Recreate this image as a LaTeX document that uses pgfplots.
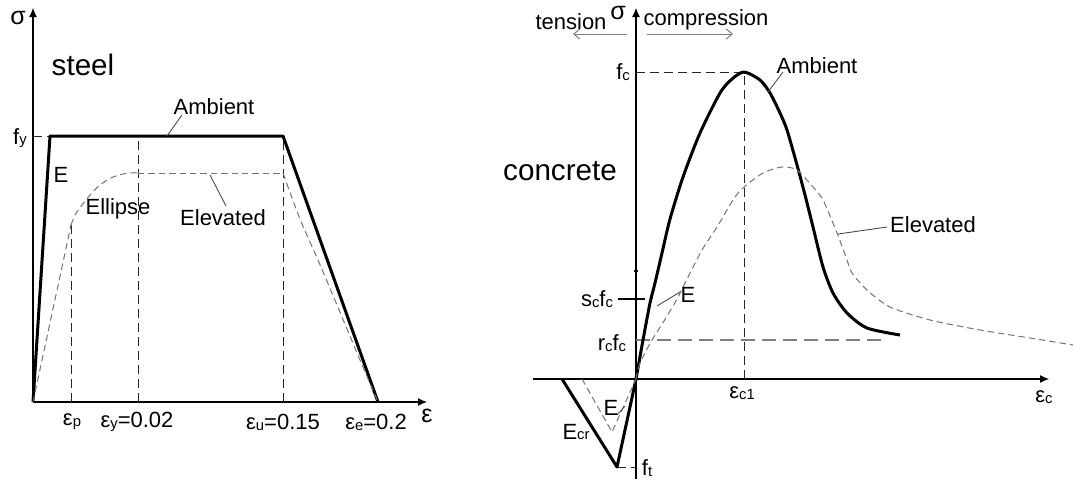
\documentclass[border=0pt]{standalone}
\usepackage{fontspec}
\setmainfont{Liberation Sans}
\usepackage{pgfplots}
\pgfplotsset{compat=1.18}
\usetikzlibrary{arrows.meta}

% small lowered index, as in f_y, eps_c1
\newcommand{\sub}[1]{\raisebox{-0.4pt}{\fontsize{7.4}{8}\selectfont #1}}
\newcommand{\lbl}{\fontsize{11}{12}\selectfont}
\newcommand{\sym}{\fontsize{12.5}{14}\selectfont}
\newcommand{\biglbl}{\fontsize{14.8}{17}\selectfont}

\tikzset{
  ambient/.style={black, line width=1.5pt, line join=round},
  elevated/.style={gray!90!black, line width=0.5pt,
    dash pattern=on 3.2pt off 2pt},
  guide/.style={black!85, line width=0.5pt, dash pattern=on 4.5pt off 2.5pt},
  leader/.style={black!70, line width=0.45pt},
  axisline/.style={black, line width=0.55pt},
  axisarrow/.style={-{Latex[length=4.5pt,width=4pt]}},
}
\pgfplotsset{
  sketch/.style={x=0.5pt, y=0.5pt, scale only axis, axis lines=none,
    ticks=none, clip=false, enlargelimits=false, anchor=south west},
}

\begin{document}
\begin{tikzpicture}
\useasboundingbox (0,0) rectangle (537pt,239.5pt);

% ---------------- steel ----------------
\begin{axis}[sketch, at={(0pt,0pt)}, xmin=-33, xmax=437, ymin=-77, ymax=402]
  % axes
  \draw[axisline, axisarrow] (0,0) -- (0,394);
  \draw[axisline, axisarrow] (0,0) -- (394,0);
  % reference lines
  \draw[guide] (0,266) -- (17,266);
  \draw[guide] (38,0) -- (38,177);
  \draw[guide] (105,0) -- (105,266);
  \draw[guide] (250,0) -- (250,266);
  % ambient: linear, plateau, linear descent
  \addplot[ambient, no marks] coordinates {(0,0) (17,266) (250,266) (345,0)};
  % elevated: linear, elliptic transition, plateau, descent
  \addplot[elevated, no marks] coordinates {(0,0) (38,177)};
  \addplot[elevated, no marks, smooth] coordinates {(38,177) (42,187) (49,197) (57,207) (67,217) (80,225) (95,229) (105,229)};
  \addplot[elevated, no marks] coordinates {(105,229) (250,229)};
  \addplot[elevated, no marks, smooth] coordinates {(250,229) (267,183) (288,135) (327,42) (345,0)};
  % leaders
  \draw[leader] (134,266) -- (149,287);
  \draw[leader] (177,227) -- (193,196);
  % labels
  \node[font=\sym] at (-15,384) {σ};
  \node[font=\biglbl] at (50,337) {steel};
  \node[font=\lbl] at (181,295) {Ambient};
  \node[font=\lbl] at (-13,264) {f\sub{y}};
  \node[font=\lbl] at (28,227) {E};
  \node[font=\lbl] at (85,193) {Ellipse};
  \node[font=\lbl] at (190,184) {Elevated};
  \node[font=\lbl] at (39,-20) {ε\sub{p}};
  \node[font=\lbl] at (104,-20) {ε\sub{y}=0.02};
  \node[font=\lbl] at (250,-20) {ε\sub{u}=0.15};
  \node[font=\lbl] at (343,-20) {ε\sub{e}=0.2};
  \node[font=\sym] at (394,-14) {ε};
\end{axis}

% ---------------- concrete ----------------
\begin{axis}[sketch, at={(235pt,0pt)}, xmin=-166, xmax=438, ymin=-100, ymax=379]
  % axes
  \draw[axisline, axisarrow] (0,-100) -- (0,371);
  \draw[axisline, axisarrow] (-103,0) -- (413,0);
  % tension / compression indicators
  \draw[gray, line width=0.5pt, -{Straight Barb[length=3pt,width=5pt]}] (-9,345) -- (-63,345);
  \draw[gray, line width=0.5pt, -{Straight Barb[length=3pt,width=5pt]}] (11,345) -- (97,345);
  % reference lines
  \draw[guide] (0,307) -- (108,307);
  \draw[guide] (108,0) -- (108,307);
  \draw[gray, line width=0.9pt, dash pattern=on 7pt off 3.5pt] (0,39) -- (249,39);
  \draw[axisline] (-18,80) -- (9,80);
  \draw[axisline] (-2,108) -- (2,108);
  \draw[guide] (-19,-88) -- (0,-88);
  % ambient
  \addplot[ambient, no marks] coordinates {(-74,0) (-19,-88) (0,0)};
  \addplot[ambient, no marks, smooth, tension=0.45] coordinates {
    (0,0) (7,39) (14,76) (19,96) (26,126) (34,160) (47,202) (64,246)
    (84,286) (96,300) (108,307) (124,299) (134,286) (144,266) (151,249)
    (161,214) (169,184) (177,152) (187,112) (197,86) (211,66) (231,51) (264,44)};
  % elevated
  \addplot[elevated, no marks] coordinates {(-54,0) (-24,-53) (0,0)};
  \addplot[elevated, no marks, smooth, tension=0.45] coordinates {
    (0,0) (4,16) (16,39) (28,58) (41,80) (52,102) (66,129) (81,152)
    (97,179) (107,191) (127,206) (146,212) (161,209) (177,192) (187,179)
    (201,146) (211,119) (216,106) (231,89) (254,72) (294,59) (344,49)
    (394,41) (437,34)};
  % leaders
  \draw[leader] (132,287) -- (147,307);
  \draw[leader] (202,145) -- (251,152);
  \draw[leader] (21,73) -- (44,87);
  \draw[leader] (-19,-36) -- (-11,-27);
  % labels
  \node[font=\sym] at (-18,366) {σ};
  \node[font=\lbl] at (-65,357) {tension};
  \node[font=\lbl] at (70,359) {compression};
  \node[font=\biglbl] at (-76,208) {concrete};
  \node[font=\lbl] at (181,313) {Ambient};
  \node[font=\lbl] at (297,154) {Elevated};
  \node[font=\lbl] at (-13,307) {f\sub{c}};
  \node[font=\lbl] at (-39,80) {s\sub{c}f\sub{c}};
  \node[font=\lbl] at (-24,36) {r\sub{c}f\sub{c}};
  \node[font=\lbl] at (52,84) {E};
  \node[font=\lbl] at (-25,-29) {E};
  \node[font=\lbl] at (-60,-53) {E\sub{cr}};
  \node[font=\lbl] at (11,-89) {f\sub{t}};
  \node[font=\lbl] at (106,-14) {ε\sub{c1}};
  \node[font=\lbl] at (408,-18) {ε\sub{c}};
\end{axis}
\end{tikzpicture}
\end{document}
